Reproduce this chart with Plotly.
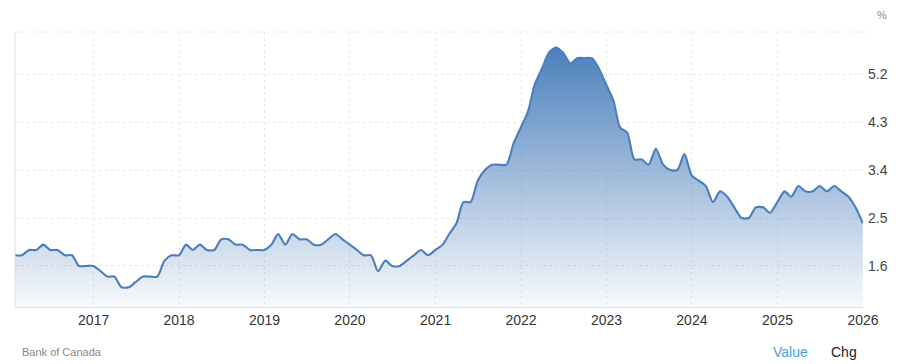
import pandas as pd
import plotly.graph_objects as go

# Monthly values, Jan 2016 .. Dec 2025 (dated at month end)
start_month = "2016-01-31"
values = [
    1.8, 1.8, 1.9, 1.9, 2.0, 1.9, 1.9, 1.8, 1.8, 1.6, 1.6, 1.6,   # 2016
    1.5, 1.4, 1.4, 1.2, 1.2, 1.3, 1.4, 1.4, 1.4, 1.7, 1.8, 1.8,   # 2017
    2.0, 1.9, 2.0, 1.9, 1.9, 2.1, 2.1, 2.0, 2.0, 1.9, 1.9, 1.9,   # 2018
    2.0, 2.2, 2.0, 2.2, 2.1, 2.1, 2.0, 2.0, 2.1, 2.2, 2.1, 2.0,   # 2019
    1.9, 1.8, 1.8, 1.5, 1.7, 1.6, 1.6, 1.7, 1.8, 1.9, 1.8, 1.9,   # 2020
    2.0, 2.2, 2.4, 2.8, 2.8, 3.2, 3.4, 3.5, 3.5, 3.5, 3.9, 4.2,   # 2021
    4.5, 5.0, 5.3, 5.6, 5.7, 5.6, 5.4, 5.5, 5.5, 5.5, 5.3, 5.0,   # 2022
    4.7, 4.2, 4.1, 3.6, 3.6, 3.5, 3.8, 3.5, 3.4, 3.4, 3.7, 3.3,   # 2023
    3.2, 3.1, 2.8, 3.0, 2.9, 2.7, 2.5, 2.5, 2.7, 2.7, 2.6, 2.8,   # 2024
    3.0, 2.9, 3.1, 3.0, 3.0, 3.1, 3.0, 3.1, 3.0, 2.9, 2.7, 2.4,   # 2025
]
dates = pd.date_range(start=start_month, periods=len(values), freq="ME")

year_ticks = ["2017", "2018", "2019", "2020", "2021", "2022", "2023", "2024", "2025", "2026"]
y_ticks = [1.6, 2.5, 3.4, 4.3, 5.2]
y_range = [0.83, 5.99]

FONT = "Arial, Liberation Sans, sans-serif"
LINE = "rgb(74,126,187)"

fig = go.Figure()
fig.add_trace(go.Scatter(
    x=dates, y=values,
    mode="lines",
    line=dict(color=LINE, width=2.1, shape="spline", smoothing=0.7),
    fill="tozeroy",
    fillgradient=dict(
        type="vertical",
        colorscale=[[0, "rgba(74,126,187,0.04)"], [1, "rgba(74,126,187,1)"]],
        start=y_range[0], stop=5.75,
    ),
    hoverinfo="skip",
    showlegend=False,
))

# the page body has an 8px margin, so the figure is sized/offset to compensate
fig.update_layout(
    width=892, height=356,
    margin=dict(l=7, r=37, t=24, b=57),
    paper_bgcolor="white", plot_bgcolor="white",
    font=dict(family=FONT, size=14, color="#333"),
    xaxis=dict(
        range=["2016-01-31", "2026-01-01"],
        tickvals=[f"{y}-01-01" for y in year_ticks],
        ticktext=year_ticks,
        showgrid=True, gridcolor="#e8e8e8", griddash="dot", gridwidth=1,
        showline=True, linecolor="#e0e0e0", linewidth=1,
        ticks="", tickfont=dict(size=14, color="#333"),
        zeroline=False, fixedrange=True,
    ),
    yaxis=dict(
        side="right",
        range=y_range,
        tickvals=y_ticks,
        ticktext=[f"{v:.1f}" for v in y_ticks],
        showgrid=True, gridcolor="#e8e8e8", griddash="dot", gridwidth=1,
        showline=False, zeroline=False,
        ticks="", tickfont=dict(size=14, color="#444"),
        ticklabelstandoff=4,
        fixedrange=True,
    ),
    shapes=[
        dict(type="line", xref="paper", yref="paper", x0=0, x1=0, y0=0, y1=1,
             line=dict(color="#e0e0e0", width=1)),
        dict(type="line", xref="paper", yref="paper", x0=0, x1=1.01, y0=1, y1=1,
             line=dict(color="#e8e8e8", width=1, dash="dot")),
        dict(type="line", xref="paper", yref="paper", x0=1.040, x1=1.040, y0=-0.2, y1=1.2,
             line=dict(color="#e8e8e8", width=1)),
    ],
    annotations=[
        dict(text="%", xref="paper", yref="paper", x=(875 - 15) / 848, y=1.0, yshift=17,
             xanchor="left", yanchor="middle", showarrow=False,
             font=dict(size=11, color="#888")),
        dict(text="Bank of Canada", xref="paper", yref="paper", x=(20 - 15) / 848, y=0,
             yshift=-45, xanchor="left", yanchor="middle", showarrow=False,
             font=dict(size=11, color="#888")),
        dict(text="Value", xref="paper", yref="paper", x=(771 - 15) / 848, y=0,
             yshift=-45, xanchor="left", yanchor="middle", showarrow=False,
             font=dict(size=14, color="#4a9ee0")),
        dict(text="Chg", xref="paper", yref="paper", x=(829 - 15) / 848, y=0,
             yshift=-45, xanchor="left", yanchor="middle", showarrow=False,
             font=dict(size=14, color="#222")),
    ],
)

fig.write_html("out.html")
